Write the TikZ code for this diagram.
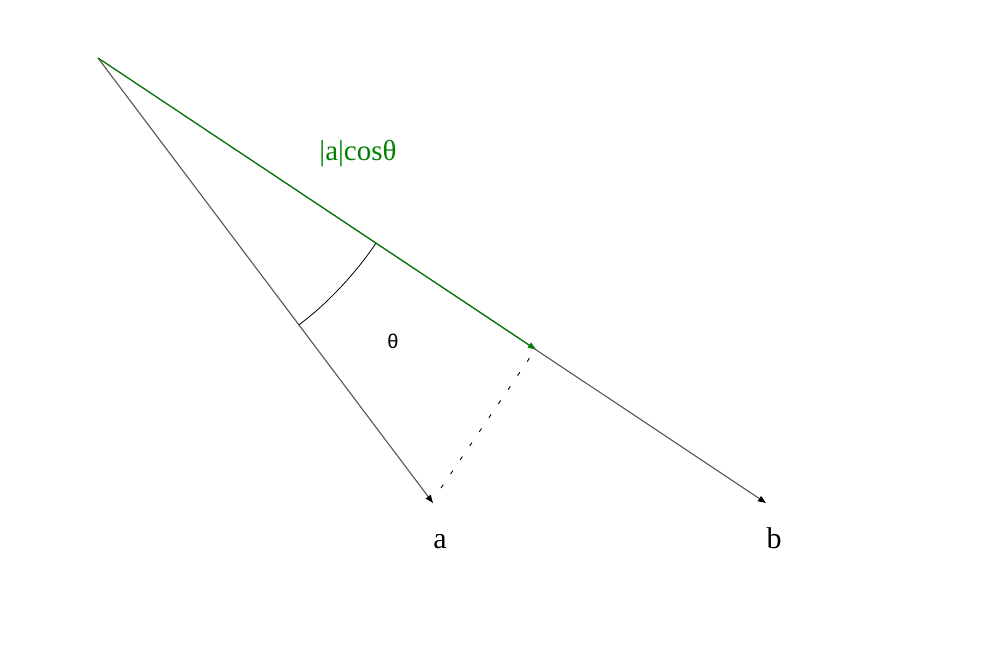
\documentclass[tikz,border=0pt]{standalone}
\usepackage{fontspec}
\setmainfont{Liberation Serif}
\newfontfamily\sansf{Liberation Sans}
\usetikzlibrary{arrows.meta,calc}
\definecolor{vecgray}{RGB}{85,85,85}
\definecolor{projgreen}{RGB}{0,128,0}
\tikzset{
  vec/.style={draw=vecgray, line width=1.1pt, -{Triangle[length=8pt,width=6pt,color=black]}},
  projvec/.style={draw=projgreen, line width=1.1pt, -{Triangle[length=8pt,width=6pt]}},
  droplink/.style={draw=black, line width=0.9pt, dash pattern=on 4pt off 13pt},
  anglearc/.style={draw=black, line width=0.8pt},
  veclabel/.style={font=\fontsize{30}{34}\selectfont, inner sep=0pt, anchor=base},
  greenlabel/.style={font=\fontsize{29}{34}\selectfont, text=projgreen, inner sep=0pt, anchor=base},
  anglelabel/.style={font=\sansf\fontsize{20}{24}\selectfont, inner sep=0pt, anchor=base}
}
\begin{document}
\begin{tikzpicture}[x=1pt,y=-1pt]
\useasboundingbox (0,0) rectangle (1000,650);
\coordinate (O) at (98,58);
\coordinate (A) at (433,503);
\coordinate (B) at (766,503);
\coordinate (P) at (536,349.5);
\coordinate (Ad) at (441,488);
\coordinate (Pd) at (533,353);
\draw[vec] (O) -- (B);
\draw[vec] (O) -- (A);
\draw[projvec] (O) -- (P);
\draw[droplink] (Ad) -- (Pd);
\coordinate (arcA) at ($(O)!334pt!(A)$);
\coordinate (arcB) at ($(O)!334pt!(B)$);
\draw[anglearc] (arcA) .. controls ($(arcA)+(30,-22)$) and ($(arcB)+(-18,27)$) .. (arcB);
\node[greenlabel] (lbl) at (358,160) {|a|cosθ};
\node[anglelabel] (th) at (393,348) {θ};
\node[veclabel] (la) at (440,548) {a};
\node[veclabel] (lb) at (774,548) {b};
\end{tikzpicture}
\end{document}
